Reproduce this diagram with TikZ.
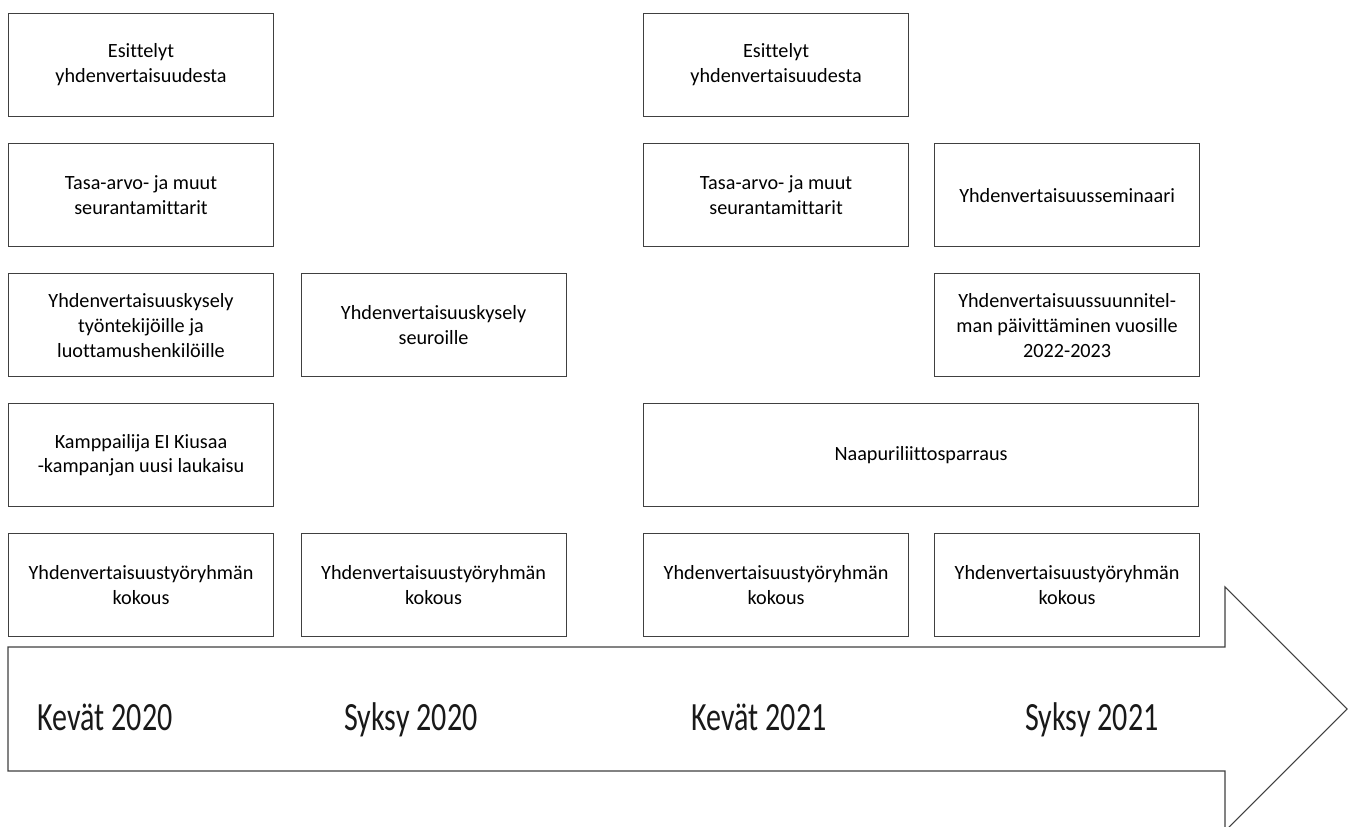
\documentclass[tikz,border=0pt]{standalone}
\usepackage{fontspec}
\setmainfont{Carlito}[Ligatures=NoCommon]
\newfontfamily\seasonfont[FakeStretch=0.75,Ligatures=NoCommon]{Carlito}
\usetikzlibrary{positioning}
\usetikzlibrary{calc}

\begin{document}
\begin{tikzpicture}[align=center,cnode/.style={rectangle,draw=black!75,fill=white,line width=0.6pt,minimum width=5.3cm,minimum height=2.06cm,inner sep=2pt,font=\fontsize{11.5}{14.2}\selectfont}, snode/.style={anchor=base,font=\seasonfont\fontsize{22.8}{26}\selectfont,text=black!90}, node distance = .52cm and .53cm]
		\useasboundingbox (0,0) rectangle (27.04,-16.54);
		\coordinate (bodynw) at (0.16,-12.94);
		\coordinate (bodyne) at (24.5,-12.94);
		\coordinate (headtop) at (24.5,-11.74);
		\coordinate (tip) at (26.94,-14.18);
		\coordinate (headbot) at (24.5,-16.62);
		\coordinate (bodyse) at (24.5,-15.42);
		\coordinate (bodysw) at (0.16,-15.42);
		\draw[draw=black!75,fill=white,line width=0.6pt] (bodynw) -- (bodyne) -- (headtop) -- (tip) -- (headbot) -- (bodyse) -- (bodysw) -- cycle;
		\node[snode] (kevat20) at (2.1,-14.6){Kevät 2020};
		\node[snode] (syksy20) at (8.22,-14.6){Syksy 2020};
		\node[snode] (kevat21) at (15.18,-14.6){Kevät 2021};
		\node[snode] (syksy21) at (21.84,-14.6){Syksy 2021};
		\node[cnode,anchor=north west] (esit1) at (0.16,-0.26){Esittelyt\\yhdenvertaisuudesta};
		\node[cnode] (tasa1)[below = of esit1]{Tasa-arvo- ja muut\\seurantamittarit};
		\node[cnode] (kysely1)[below = of tasa1]{Yhdenvertaisuuskysely\\työntekijöille ja\\luottamushenkilöille};
		\node[cnode] (kamp)[below = of kysely1]{Kamppailija EI Kiusaa\\-kampanjan uusi laukaisu};
		\node[cnode] (kokous1)[below = of kamp]{Yhdenvertaisuustyöryhmän\\kokous};
		\node[cnode] (kysely2)[right = of kysely1]{Yhdenvertaisuuskysely\\seuroille};
		\node[cnode] (kokous2)[right = of kokous1]{Yhdenvertaisuustyöryhmän\\kokous};
		\node[cnode] (esit2)[right = 7.38cm of esit1]{Esittelyt\\yhdenvertaisuudesta};
		\node[cnode] (tasa2)[below = of esit2]{Tasa-arvo- ja muut\\seurantamittarit};
		\node[cnode] (seminaari)[right = .5cm of tasa2]{Yhdenvertaisuusseminaari};
		\node[cnode] (suunnitelma)[below = of seminaari]{Yhdenvertaisuussuunnitel-\\man päivittäminen vuosille\\2022-2023};
		\node[cnode,minimum width=11.1cm] (naapuri)[below right = 3.12cm and 0cm of tasa2.south west]{Naapuriliittosparraus};
		\node[cnode] (kokous3)[below right = .52cm and 0cm of naapuri.south west]{Yhdenvertaisuustyöryhmän\\kokous};
		\node[cnode] (kokous4)[right = .5cm of kokous3]{Yhdenvertaisuustyöryhmän\\kokous};
	\end{tikzpicture}
\end{document}
